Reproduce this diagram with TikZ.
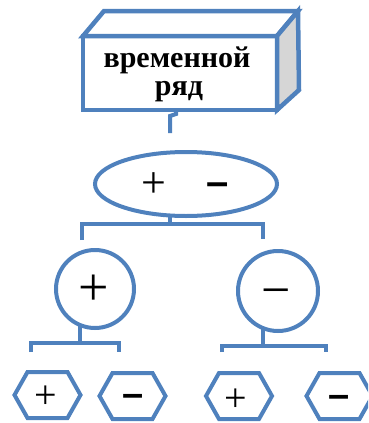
\documentclass[tikz,border=0pt]{standalone}
\usepackage{fontspec}
\setmainfont{Liberation Serif}
\newfontfamily\dashfont{Liberation Sans}
\usetikzlibrary{shapes.geometric,calc}
\definecolor{boxblue}{HTML}{4F81BD}
\definecolor{sidegray}{HTML}{D6D6D6}
\tikzset{
  boxline/.style={draw=boxblue,line width=4.5pt},
  conn/.style={draw=boxblue,line width=4pt},
  shapeline/.style={draw=boxblue,line width=4pt,outer sep=0pt},
  thinsign/.style={inner sep=0pt,anchor=base,font=\fontsize{#1}{#1}\selectfont},
  thicksign/.style={inner sep=0pt,anchor=base,font=\dashfont\bfseries\fontsize{#1}{#1}\selectfont},
  titletext/.style={inner sep=0pt,anchor=base,font=\bfseries\fontsize{30}{30}\selectfont},
}
% irregular hexagon (pointed left and right) around a named coordinate
\newcommand\hexaround[1]{%
  \draw[shapeline,shift={(#1)}] (-33,0) -- (-20,-23) -- (20,-23) -- (33,0)
    -- (20,23) -- (-20,23) -- cycle;}
\begin{document}
\begin{tikzpicture}[x=1pt,y=-1pt]
\useasboundingbox (0,0) rectangle (368,423);
\clip (0,0) rectangle (368,423);

% 3-D box holding the title
\node[boxline,fill=white,minimum width=194pt,minimum height=74pt,outer sep=0pt,
      inner sep=0pt] (ts) at (180,73) {};
\draw[boxline,fill=white,line join=miter] (ts.north west) -- ++(21,-25)
  -- ($(ts.north east)+(21,-25)$) -- (ts.north east) -- cycle;
\draw[boxline,fill=sidegray,line join=miter] (ts.north east) -- ++(21,-25)
  -- ($(ts.south east)+(22,-20)$) -- (ts.south east) -- cycle;
\node[titletext] (title1) at (177,67) {временной};
\node[titletext] (title2) at (179,95) {ряд};
\coordinate (tsend) at (170,133);
\draw[conn] ($(ts.south)+(-4,-2)$) -- ++(0,6) -- ++(-6,2) |- (tsend);

% root ellipse
\node[shapeline,ellipse,minimum width=182pt,minimum height=64pt] (root) at (186,184) {};
\node[thinsign=44] (rplus) at (154,197) {+};
\node[thicksign=40] (rminus) at (218,195) {–};

% second level circles
\node[shapeline,circle,minimum size=78pt] (cp) at (95,289) {};
\node[shapeline,circle,minimum size=80pt] (cm) at (278,291) {};
\node[thinsign=54] (cplus) at (94,305) {+};
\node[thinsign=52] (cminus) at (276,307) {−};

% bracket from the ellipse to the circles
\draw[conn] ($(root.south)+(-16,-2)$) -- ++(0,10) coordinate (rj);
\draw[conn] ($(cp.north)+(-13,-10)$) |- (rj) -| ($(cm.north)+(-15,-12)$);

% third level hexagons
\coordinate (h1) at (47.5,395);
\coordinate (h2) at (132.5,396);
\coordinate (h3) at (239,396);
\coordinate (h4) at (339.5,396);
\hexaround{h1}\hexaround{h2}\hexaround{h3}\hexaround{h4}
\node[thinsign=40] (s1) at (45.5,408) {+};
\node[thicksign=38] (s2) at (133,406) {–};
\node[thinsign=40] (s3) at (236,411) {+};
\node[thicksign=38] (s4) at (339,407) {–};

% brackets from the circles to the hexagons
\draw[conn] ($(cp.south)+(-15,-4)$) -- ++(0,19) coordinate (lj);
\draw[conn] ($(h1)+(-17,-43)$) |- (lj) -| ($(h2)+(-14,-44)$);
\draw[conn] ($(cm.south)+(-15,-4)$) -- ++(0,19) coordinate (mj);
\draw[conn] ($(h3)+(-17,-44)$) |- (mj) -| ($(h4)+(-14,-44)$);
\end{tikzpicture}
\end{document}
